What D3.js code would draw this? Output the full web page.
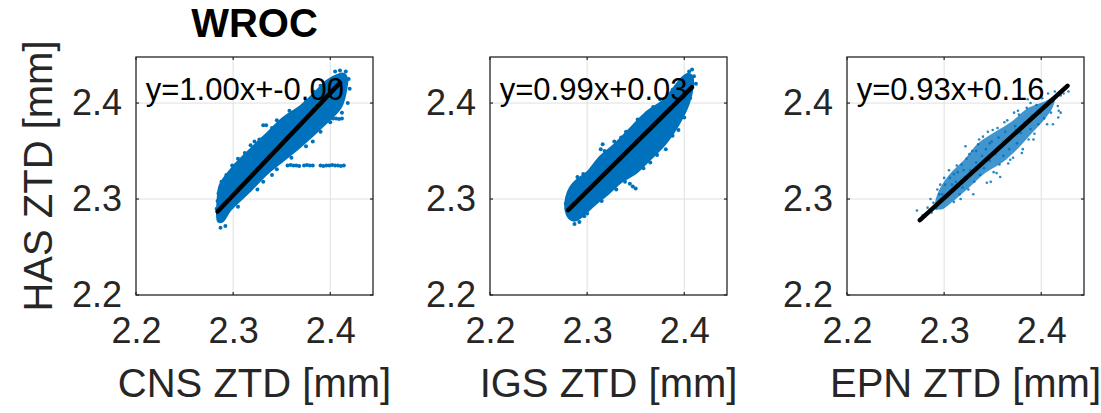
<!DOCTYPE html>
<html>
<head>
<meta charset="utf-8">
<script src="https://cdn.jsdelivr.net/npm/d3@7/dist/d3.min.js"></script>
<style>
    body { margin: 0; background: #fff; }
    text { font-family: "Liberation Sans", Arial, Helvetica, sans-serif; }
</style>
</head>
<body>
<div id="chart"></div>
<script>
// ---- data ----
const stationName = "WROC";
const yLabel = "HAS ZTD [mm]";
const xLabels = ["CNS ZTD [mm]", "IGS ZTD [mm]", "EPN ZTD [mm]"];
const fitLabels = ["y=1.00x+-0.00", "y=0.99x+0.03", "y=0.93x+0.16"];
const tickValues = [2.2, 2.3, 2.4];
const tickLabels = ["2.2", "2.3", "2.4"];
const xDomain = [2.2, 2.444];
const yDomain = [2.2, 2.448];
const fitPos = [2.21, 2.414];   // where the fit equation is written (data units)

// regression line end points [x, y]
const cnsFit = [[2.284, 2.287], [2.410, 2.421]];
const igsFit = [[2.2804, 2.2885], [2.408, 2.4167]];
const epnFit = [[2.275, 2.278], [2.427, 2.418]];

// outline of the dense part of each cloud
const cnsCloud = [[2.284, 2.282], [2.2845, 2.298], [2.2866, 2.314], [2.300, 2.333], [2.3175, 2.351],
    [2.335, 2.368], [2.3515, 2.384], [2.369, 2.396], [2.383, 2.409], [2.397, 2.423], [2.408, 2.429],
    [2.414, 2.430], [2.417, 2.425], [2.4165, 2.418], [2.414, 2.405], [2.410, 2.395], [2.3866, 2.371],
    [2.369, 2.355], [2.3515, 2.3405], [2.335, 2.327], [2.3175, 2.309], [2.297, 2.289], [2.2887, 2.277],
    [2.285, 2.277]];
const igsCloud = [[2.278, 2.290], [2.279, 2.302], [2.283, 2.312], [2.290, 2.320], [2.301, 2.328],
    [2.312, 2.342], [2.3289, 2.357], [2.3464, 2.375], [2.360, 2.389], [2.3804, 2.404], [2.392, 2.419],
    [2.398, 2.426], [2.404, 2.430], [2.408, 2.427], [2.408, 2.415], [2.404, 2.399], [2.3938, 2.378],
    [2.3804, 2.358], [2.3629, 2.340], [2.3495, 2.327], [2.336, 2.319], [2.3216, 2.306], [2.3082, 2.295],
    [2.2876, 2.278], [2.282, 2.280]];
const epnCloud = [[2.291, 2.291], [2.293, 2.305], [2.3041, 2.324], [2.3216, 2.342], [2.335, 2.358],
    [2.3526, 2.370], [2.370, 2.381], [2.3866, 2.395], [2.4041, 2.402], [2.414, 2.407], [2.412, 2.396],
    [2.4041, 2.384], [2.3907, 2.369], [2.3763, 2.353], [2.3598, 2.338], [2.3423, 2.327], [2.3247, 2.311],
    [2.3082, 2.297], [2.297, 2.289]];

// single points around the edges and outliers
const cnsPoints = [
    [2.287, 2.270], [2.292, 2.272], [2.283, 2.290], [2.285, 2.306], [2.290, 2.312], [2.289, 2.279],
    [2.284, 2.298], [2.296, 2.322], [2.292, 2.283], [2.288, 2.318], [2.293, 2.325],
    [2.299, 2.335], [2.302, 2.335], [2.331, 2.377], [2.334, 2.377],
    [2.356, 2.335], [2.359, 2.3355], [2.362, 2.335], [2.365, 2.335], [2.368, 2.3345],
    [2.373, 2.335], [2.376, 2.3355], [2.379, 2.335], [2.382, 2.335],
    [2.390, 2.335], [2.393, 2.3345], [2.396, 2.335], [2.399, 2.335], [2.402, 2.3355], [2.405, 2.335],
    [2.408, 2.335], [2.411, 2.3345], [2.414, 2.335],
    [2.397, 2.384], [2.400, 2.3845], [2.403, 2.384], [2.406, 2.384], [2.409, 2.3835], [2.412, 2.384],
    [2.410, 2.434], [2.416, 2.433], [2.419, 2.425], [2.420, 2.415], [2.405, 2.433],
    [2.305, 2.342], [2.312, 2.348], [2.322, 2.360], [2.327, 2.362], [2.340, 2.374], [2.345, 2.382],
    [2.358, 2.392], [2.375, 2.402], [2.383, 2.412], [2.390, 2.418], [2.318, 2.356], [2.309, 2.339],
    [2.305, 2.292], [2.325, 2.310], [2.340, 2.325], [2.360, 2.343], [2.375, 2.355], [2.390, 2.370],
    [2.400, 2.380], [2.412, 2.390], [2.418, 2.400], [2.345, 2.331], [2.382, 2.360], [2.331, 2.318]];
const igsPoints = [
    [2.279, 2.290], [2.280, 2.298], [2.283, 2.281], [2.287, 2.274], [2.292, 2.276], [2.297, 2.282],
    [2.281, 2.302], [2.278, 2.295], [2.314, 2.352], [2.316, 2.357], [2.318, 2.350],
    [2.347, 2.313], [2.350, 2.311], [2.339, 2.318], [2.344, 2.316],
    [2.405, 2.433], [2.410, 2.428], [2.412, 2.420], [2.408, 2.435],
    [2.290, 2.323], [2.305, 2.332], [2.322, 2.347], [2.335, 2.364], [2.352, 2.383], [2.368, 2.396],
    [2.388, 2.414], [2.340, 2.370], [2.375, 2.404], [2.296, 2.326], [2.328, 2.360],
    [2.300, 2.285], [2.315, 2.298], [2.330, 2.310], [2.358, 2.332], [2.372, 2.346], [2.388, 2.366],
    [2.400, 2.385], [2.406, 2.405], [2.365, 2.338], [2.381, 2.352], [2.394, 2.372]];
const epnPoints = [
    [2.272, 2.288], [2.278, 2.283], [2.283, 2.291], [2.287, 2.286], [2.289, 2.296], [2.292, 2.290],
    [2.286, 2.300], [2.295, 2.305], [2.298, 2.298], [2.293, 2.310],
    [2.301, 2.315], [2.303, 2.302], [2.306, 2.322], [2.308, 2.309], [2.310, 2.297], [2.312, 2.318],
    [2.314, 2.328], [2.316, 2.305], [2.318, 2.336], [2.319, 2.312], [2.305, 2.330], [2.310, 2.326],
    [2.321, 2.322], [2.323, 2.342], [2.325, 2.310], [2.327, 2.330], [2.329, 2.350], [2.331, 2.318],
    [2.333, 2.338], [2.335, 2.357], [2.337, 2.325], [2.339, 2.345], [2.322, 2.355], [2.340, 2.365],
    [2.341, 2.332], [2.343, 2.352], [2.345, 2.370], [2.347, 2.340], [2.349, 2.360], [2.351, 2.328],
    [2.353, 2.347], [2.355, 2.374], [2.357, 2.336], [2.359, 2.356], [2.348, 2.318], [2.356, 2.364],
    [2.361, 2.345], [2.363, 2.370], [2.365, 2.382], [2.367, 2.352], [2.369, 2.364], [2.371, 2.343],
    [2.373, 2.376], [2.375, 2.358], [2.377, 2.388], [2.379, 2.369], [2.366, 2.337], [2.372, 2.390],
    [2.381, 2.352], [2.383, 2.380], [2.385, 2.395], [2.387, 2.362], [2.389, 2.373], [2.391, 2.387],
    [2.393, 2.368], [2.395, 2.398], [2.397, 2.378], [2.399, 2.390], [2.386, 2.404],
    [2.401, 2.405], [2.403, 2.384], [2.405, 2.396], [2.407, 2.410], [2.410, 2.390], [2.412, 2.402],
    [2.414, 2.412], [2.417, 2.397], [2.420, 2.408], [2.424, 2.416], [2.412, 2.378], [2.428, 2.412],
    [2.420, 2.390], [2.4175, 2.385], [2.3577, 2.323],
    [2.296, 2.315], [2.300, 2.322], [2.313, 2.335], [2.317, 2.300], [2.326, 2.347], [2.330, 2.305],
    [2.336, 2.362], [2.344, 2.317], [2.350, 2.372], [2.354, 2.327], [2.362, 2.380], [2.368, 2.341],
    [2.376, 2.392], [2.380, 2.348], [2.389, 2.400], [2.392, 2.362], [2.400, 2.408], [2.406, 2.378],
    [2.415, 2.407], [2.418, 2.392], [2.423, 2.410], [2.333, 2.350], [2.347, 2.358], [2.361, 2.360],
    [2.374, 2.372], [2.388, 2.383], [2.402, 2.395], [2.320, 2.330], [2.308, 2.315], [2.298, 2.305]];

const panels = [
    {xLabel: xLabels[0], fitLabel: fitLabels[0], fit: cnsFit, cloud: cnsCloud, points: cnsPoints, dense: true},
    {xLabel: xLabels[1], fitLabel: fitLabels[1], fit: igsFit, cloud: igsCloud, points: igsPoints, dense: true},
    {xLabel: xLabels[2], fitLabel: fitLabels[2], fit: epnFit, cloud: epnCloud, points: epnPoints, dense: false}
];

// ---- layout ----
const W = 1101, H = 413;
const boxW = 237, boxH = 238, boxTop = 57;
const boxLeft = [136, 490, 847];
const blue = "#0072BD", axisColor = "#262626", gridColor = "#dfdfdf";

const svg = d3.select("#chart").append("svg")
    .attr("width", W)
    .attr("height", H);

panels.forEach(function(p, i) {
    let g = svg.append("g")
        .attr("transform", "translate(" + boxLeft[i] + "," + boxTop + ")");

    let x = d3.scaleLinear().domain(xDomain).range([0, boxW]);
    let y = d3.scaleLinear().domain(yDomain).range([boxH, 0]);

    // grid
    g.append("g").selectAll("line")
        .data(tickValues.slice(1)).enter().append("line")
        .attr("x1", d => x(d)).attr("x2", d => x(d))
        .attr("y1", 0).attr("y2", boxH)
        .attr("stroke", gridColor).attr("stroke-width", 1);
    g.append("g").selectAll("line")
        .data(tickValues.slice(1)).enter().append("line")
        .attr("y1", d => y(d)).attr("y2", d => y(d))
        .attr("x1", 0).attr("x2", boxW)
        .attr("stroke", gridColor).attr("stroke-width", 1);

    // cloud
    let outline = d3.line().x(d => x(d[0])).y(d => y(d[1])).curve(d3.curveCatmullRomClosed);
    g.append("path")
        .attr("d", outline(p.cloud))
        .attr("fill", blue)
        .attr("fill-opacity", p.dense ? 1 : 0.75)
        .attr("stroke", blue)
        .attr("stroke-width", p.dense ? 3 : 0);

    g.append("g").selectAll("circle")
        .data(p.points).enter().append("circle")
        .attr("cx", d => x(d[0]))
        .attr("cy", d => y(d[1]))
        .attr("r", p.dense ? 2 : 1.3)
        .attr("fill", blue)
        .attr("fill-opacity", p.dense ? 1 : 0.85);

    // fit line
    g.append("line")
        .attr("x1", x(p.fit[0][0])).attr("y1", y(p.fit[0][1]))
        .attr("x2", x(p.fit[1][0])).attr("y2", y(p.fit[1][1]))
        .attr("stroke", "#000")
        .attr("stroke-width", 4.5)
        .attr("stroke-linecap", "round");

    // box
    g.append("rect")
        .attr("width", boxW).attr("height", boxH)
        .attr("fill", "none")
        .attr("stroke", axisColor)
        .attr("stroke-width", 1.3);

    // small inward ticks on all sides
    tickValues.forEach(function(t) {
        [[x(t), boxH, x(t), boxH - 3], [x(t), 0, x(t), 3],
         [0, y(t), 3, y(t)], [boxW, y(t), boxW - 3, y(t)]].forEach(function(s) {
            g.append("line")
                .attr("x1", s[0]).attr("y1", s[1]).attr("x2", s[2]).attr("y2", s[3])
                .attr("stroke", axisColor).attr("stroke-width", 1.2);
        });
    });

    // tick labels
    let xAxis = g.append("g")
        .attr("transform", "translate(0," + boxH + ")")
        .call(d3.axisBottom(x).tickValues(tickValues).tickFormat((d, k) => tickLabels[k])
            .tickSize(0).tickPadding(22));
    let yAxis = g.append("g")
        .call(d3.axisLeft(y).tickValues(tickValues).tickFormat((d, k) => tickLabels[k])
            .tickSize(0).tickPadding(14));
    [xAxis, yAxis].forEach(function(a) {
        a.select(".domain").remove();
        a.selectAll("text")
            .attr("font-size", 36)
            .attr("fill", axisColor)
            .style("font-family", '"Liberation Sans", Arial, sans-serif');
    });

    g.append("text")
        .text(p.xLabel)
        .attr("x", boxW / 2)
        .attr("y", 340)
        .attr("text-anchor", "middle")
        .attr("font-size", 40)
        .attr("fill", axisColor);

    // fit equation
    g.append("text")
        .text(p.fitLabel)
        .attr("x", x(fitPos[0]))
        .attr("y", y(fitPos[1]))
        .attr("dy", "0.35em")
        .attr("font-size", 31)
        .attr("fill", "#000");

    if (i === 0) {
        g.append("text")
            .text(stationName)
            .attr("x", boxW / 2)
            .attr("y", -20)
            .attr("text-anchor", "middle")
            .attr("font-size", 40)
            .attr("font-weight", "bold")
            .attr("fill", "#000");

        g.append("text")
            .text(yLabel)
            .attr("transform", "translate(" + (-84) + "," + (boxH / 2) + ") rotate(-90)")
            .attr("text-anchor", "middle")
            .attr("font-size", 40)
            .attr("fill", axisColor);
    }
});
</script>
</body>
</html>
